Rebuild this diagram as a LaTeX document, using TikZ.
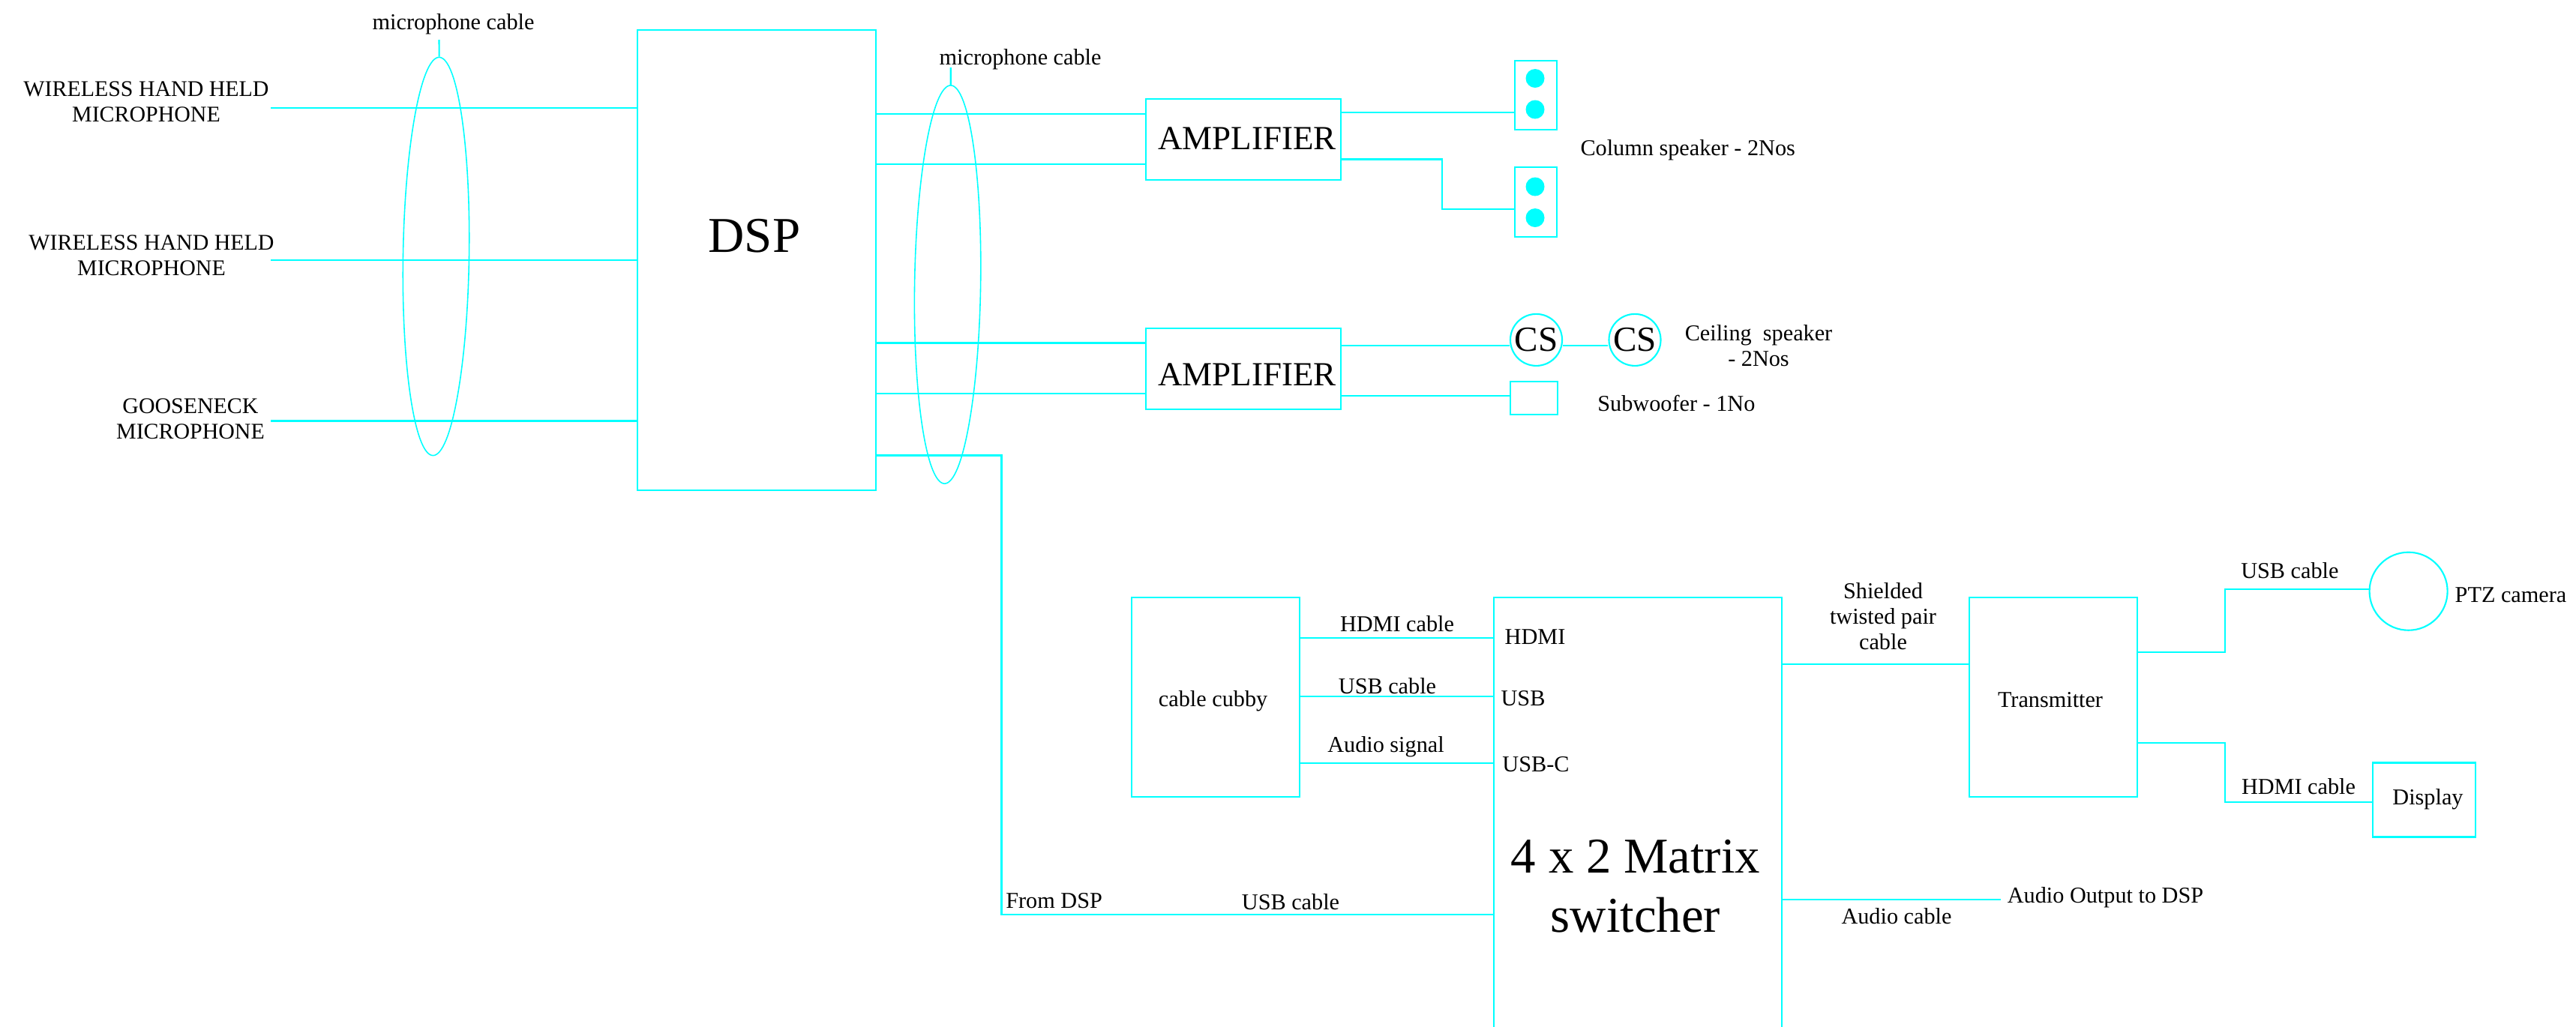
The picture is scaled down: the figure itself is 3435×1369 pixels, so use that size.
\documentclass[tikz,border=0pt]{standalone}
\usepackage{fontspec}
\setmainfont{Liberation Serif}
\definecolor{avCyan}{HTML}{00FFFF}
\usetikzlibrary{shapes.geometric, positioning}

\begin{document}
\begin{tikzpicture}[x=.01cm, y=-.01cm,
  wire/.style={draw=avCyan, line width=.6pt},
  devbox/.style={draw=avCyan, line width=.6pt, inner sep=0pt, outer sep=0pt, align=center,
    font=\fontsize{8.6}{10}\selectfont},
  spkdot/.style={circle, fill=avCyan, inner sep=0pt, minimum size=.25cm},
  csnode/.style={circle, draw=avCyan, line width=.6pt, inner sep=0pt, minimum size=.69cm,
    font=\fontsize{13.4}{14}\selectfont},
  bundle/.style={ellipse, draw=avCyan, line width=.45pt, inner sep=0pt, minimum width=.88cm,
    minimum height=5.31cm, rotate=-.9},
  lbl/.style={inner sep=0pt, yshift=-.6pt, align=center, font=\fontsize{8.6}{9.7}\selectfont},
  caps/.style={lbl, font=\fontsize{8.5}{9.6}\selectfont},
  bigtxt/.style={inner sep=0pt, yshift=-.5pt, align=center, font=\fontsize{19}{22.5}\selectfont},
  amptxt/.style={inner sep=0pt, yshift=-.3pt, font=\fontsize{12.8}{14}\selectfont}]

  \useasboundingbox (0,0) rectangle (3435,1369);

  % audio part
  \node[devbox, minimum width=3.18cm, minimum height=6.13cm] (dsp) at (1009,347) {};
  \node[bigtxt] (dsptxt) at (1006,313) {DSP};

  \node[caps] (mic1) at (195,134) {WIRELESS HAND HELD\\MICROPHONE};
  \node[caps] (mic2) at (202,339) {WIRELESS HAND HELD\\MICROPHONE};
  \node[caps] (mic3) at (254,557) {GOOSENECK\\MICROPHONE};

  \coordinate (mic1end) at (361,144);
  \coordinate (mic2end) at (361,347);
  \coordinate (mic3end) at (361,561.5);
  \foreach \micend in {mic1end, mic2end, mic3end}
    \draw[wire] (\micend) -- (\micend -| dsp.west);

  \node[bundle] (bun1) at (581.5,342) {};
  \coordinate (bun1top) at (585.5,53);
  \draw[wire] (bun1top) -- (bun1.north);
  \node[lbl] (bun1txt) at (604.6,30) {microphone cable};

  \node[devbox, minimum width=2.605cm, minimum height=1.08cm] (amp1) at (1658,186) {};
  \node[devbox, minimum width=2.605cm, minimum height=1.08cm] (amp2) at (1658,492) {};
  \node[amptxt] (amp1txt) at (1663,184) {AMPLIFIER};
  \node[amptxt] (amp2txt) at (1663,499) {AMPLIFIER};

  \foreach \wy/\amp in {152/amp1, 219/amp1, 457.5/amp2, 525/amp2}
    \draw[wire] (dsp.east |- 0,\wy) -- (\amp.west |- 0,\wy);

  \node[bundle] (bun2) at (1263.6,379.5) {};
  \coordinate (bun2top) at (1267.7,90);
  \draw[wire] (bun2top) -- (bun2.north);
  \node[lbl] (bun2txt) at (1360.6,77) {microphone cable};

  % speakers
  \node[devbox, minimum width=.56cm, minimum height=.925cm] (spk1) at (2048,127) {};
  \node[devbox, minimum width=.56cm, minimum height=.93cm] (spk2) at (2048,269.5) {};
  \foreach \dy [count=\i] in {104.5, 146, 249, 290.5}
    \node[spkdot] (dot\i) at (2047,\dy) {};
  \node[lbl] (spktxt) at (2250.7,198) {Column speaker - 2Nos};

  \draw[wire] (amp1.east |- 0,150) -- (spk1.west |- 0,150);
  \draw[wire] (amp1.east |- 0,212.5) -- (1923,212.5) -- (1923,279) -- (spk2.west |- 0,279);

  \node[csnode] (cs1) at (2048.5,453.4) {CS};
  \node[csnode] (cs2) at (2180,453.4) {CS};
  \node[devbox, minimum width=.63cm, minimum height=.435cm] (sub) at (2045.5,531) {};
  \node[lbl] (cstxt) at (2345,459) {Ceiling\ \ speaker\\[-.2pt]- 2Nos};
  \node[lbl] (subtxt) at (2235.4,536) {Subwoofer - 1No};

  \draw[wire] (amp2.east |- 0,461.4) -- (cs1.west |- 0,461.4);
  \draw[wire] (cs1.east |- 0,461.4) -- (cs2.west |- 0,461.4);
  \draw[wire] (amp2.east |- 0,528) -- (sub.west |- 0,528);

  % video part
  \node[devbox, minimum width=3.84cm, minimum height=5.78cm] (sw) at (2184,1086) {};
  \node[bigtxt] (swtxt) at (2181,1180) {4 x 2 Matrix\\switcher};
  \node[devbox, minimum width=2.24cm, minimum height=2.66cm] (cubby) at (1621,930) {};
  \node[lbl] (cubbytxt) at (1617.6,933) {cable cubby};

  \draw[wire] (dsp.east |- 0,607.5) -- (1335.5,607.5) -- (1335.5,1220) -- (sw.west |- 0,1220);
  \node[lbl] (fromtxt) at (1405.6,1200) {From DSP};
  \node[lbl] (usbtxt) at (1721,1201) {USB cable};

  \foreach \wy in {851, 929, 1018}
    \draw[wire] (cubby.east |- 0,\wy) -- (sw.west |- 0,\wy);
  \node[lbl] (hdmitxt) at (1863,830) {HDMI cable};
  \node[lbl] (usbtxt2) at (1850,913) {USB cable};
  \node[lbl] (audiotxt) at (1848,994) {Audio signal};
  \node[lbl] (porta) at (2047,848) {HDMI};
  \node[lbl] (portb) at (2031,930) {USB};
  \node[lbl] (portc) at (2048,1018) {USB-C};

  \node[devbox, minimum width=2.24cm, minimum height=2.66cm] (tx) at (2738,930) {};
  \node[lbl] (txtxt) at (2734,932) {Transmitter};
  \draw[wire] (sw.east |- 0,886.4) -- (tx.west |- 0,886.4);
  \node[lbl] (shieldtxt) at (2511,820) {Shielded\\twisted pair\\cable};

  \node[devbox, circle, minimum size=1.04cm] (ptz) at (3211.6,788.7) {};
  \node[lbl] (ptztxt) at (3348,792) {PTZ camera};
  \draw[wire] (tx.east |- 0,870) -- (2966.6,870) -- (2966.6,785.7) -- (ptz.west |- 0,785.7);
  \node[lbl] (usbtxt3) at (3053.4,759) {USB cable};

  \node[devbox, minimum width=1.365cm, minimum height=.99cm] (disp) at (3232.7,1067) {};
  \node[lbl] (disptxt) at (3237.5,1064) {Display};
  \draw[wire] (tx.east |- 0,991) -- (2966.6,991) -- (2966.6,1069.7) -- (disp.west |- 0,1069.7);
  \node[lbl] (hdmitxt2) at (3065,1046.7) {HDMI cable};

  \coordinate (audioend) at (2667.6,1200);
  \draw[wire] (sw.east |- audioend) -- (audioend);
  \node[lbl] (outtxt) at (2807.5,1195) {Audio Output to DSP};
  \node[lbl] (cabletxt) at (2529,1220.5) {Audio cable};
\end{tikzpicture}
\end{document}
